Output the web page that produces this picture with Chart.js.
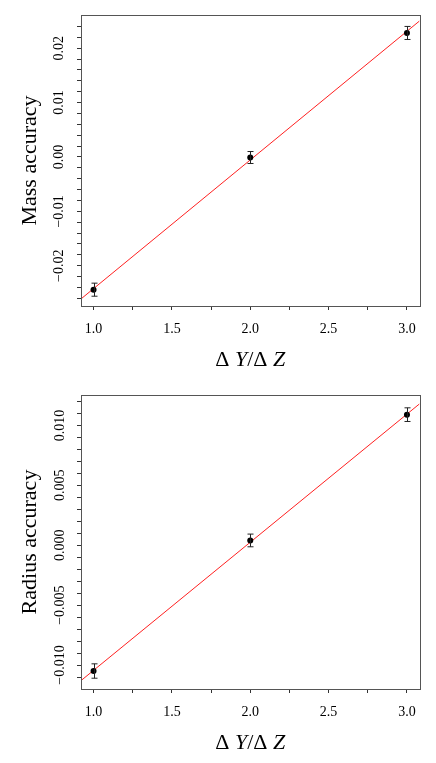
<!DOCTYPE html>
<html>
<head>
<meta charset="utf-8">
<script src="https://cdn.jsdelivr.net/npm/chart.js@4.4.1/dist/chart.umd.min.js"></script>
<style>
  html, body { margin: 0; padding: 0; background: #fff; }
  canvas { display: block; }
</style>
</head>
<body>
<canvas id="massChart" width="436" height="380"></canvas>
<canvas id="radiusChart" width="436" height="383"></canvas>
<script>
// helium-to-metal enrichment ratio used in the three runs
const deltaYZ = [1.0, 2.0, 3.0];

// mass accuracy per run, with 1-sigma errors
const massAcc = [-0.0244, -0.0001, 0.0228];
const massErr = [0.0012, 0.0011, 0.0012];
// linear fit, evaluated at the ends of the x range
const massFitX = [0.92, 3.08];
const massFitY = [-0.0261, 0.0250];

// radius accuracy per run, with 1-sigma errors
const radiusAcc = [-0.0105, 0.0004, 0.0109];
const radiusErr = [0.0006, 0.00053, 0.00057];
const radiusFitX = [0.92, 3.08];
const radiusFitY = [-0.0113, 0.0118];

const SERIF = '"Liberation Serif", "DejaVu Serif", serif';
const minus = s => s.replace('-', '\u2212');

// vertical error bars with small caps, drawn through the chart scales
const errorBars = {
  id: 'errorBars',
  afterDatasetsDraw(chart) {
    const { ctx, scales: { x, y } } = chart;
    const ds = chart.data.datasets[0];
    ctx.save();
    ctx.strokeStyle = '#222';
    ctx.lineWidth = 1;
    ds.data.forEach((p, i) => {
      const e = ds.errors[i];
      const px = Math.round(x.getPixelForValue(p.x)) + 0.5;
      const top = y.getPixelForValue(p.y + e);
      const bot = y.getPixelForValue(p.y - e);
      ctx.beginPath();
      ctx.moveTo(px, top); ctx.lineTo(px, bot);
      ctx.moveTo(px - 3, top); ctx.lineTo(px + 3, top);
      ctx.moveTo(px - 3, bot); ctx.lineTo(px + 3, bot);
      ctx.stroke();
    });
    ctx.restore();
  }
};

// frame around the plot region and the x label with italic Y and Z
const frameAndLabel = {
  id: 'frameAndLabel',
  afterDraw(chart) {
    const { ctx, chartArea: a } = chart;
    ctx.save();
    ctx.strokeStyle = '#555';
    ctx.lineWidth = 1;
    ctx.strokeRect(Math.round(a.left) + 0.5, Math.round(a.top) + 0.5,
      Math.round(a.right - a.left), Math.round(a.bottom - a.top));

    const parts = [['\u0394 ', false], ['Y', true], ['/', false], ['\u0394 ', false], ['Z', true]];
    const fontFor = it => (it ? 'italic ' : '') + '22px ' + SERIF;
    let total = 0;
    parts.forEach(([t, it]) => { ctx.font = fontFor(it); total += ctx.measureText(t).width; });
    let cx = (a.left + a.right) / 2 - total / 2;
    ctx.fillStyle = '#000';
    ctx.textBaseline = 'alphabetic';
    parts.forEach(([t, it]) => {
      ctx.font = fontFor(it);
      ctx.fillText(t, cx, a.bottom + 60);
      cx += ctx.measureText(t).width;
    });
    ctx.restore();
  }
};

function makeChart(id, acc, err, fitX, fitY, yMin, yMax, yStep, yMajor, yDigits, tickLo, tickHi, yTitle, labelPad) {
  const isMajor = (v, m) => Math.abs(v / m - Math.round(v / m)) < 1e-6;
  return new Chart(document.getElementById(id), {
    type: 'scatter',
    data: {
      datasets: [
        {
          data: deltaYZ.map((x, i) => ({ x, y: acc[i] })),
          errors: err,
          pointRadius: 3,
          pointBackgroundColor: '#000',
          pointBorderColor: '#000',
          pointBorderWidth: 0,
          showLine: false
        },
        {
          type: 'line',
          data: fitX.map((x, i) => ({ x, y: fitY[i] })),
          borderColor: '#ff2020',
          borderWidth: 1,
          pointRadius: 0,
          fill: false
        }
      ]
    },
    options: {
      responsive: false,
      animation: false,
      layout: { padding: { left: 0, top: 15, right: 16.5, bottom: 0 } },
      plugins: { legend: { display: false }, tooltip: { enabled: false } },
      scales: {
        x: {
          type: 'linear',
          min: 0.92,
          max: 3.08,
          afterFit: s => { s.height = 74; },
          border: { display: false },
          grid: { drawOnChartArea: false, drawTicks: true, tickLength: 4, tickColor: '#333' },
          ticks: {
            stepSize: 0.25,
            includeBounds: false,
            autoSkip: false,
            maxRotation: 0,
            padding: 11,
            color: '#000',
            font: { family: SERIF, size: 14 },
            callback: v => (isMajor(v, 0.5) ? v.toFixed(1) : '')
          }
        },
        y: {
          type: 'linear',
          min: yMin,
          max: yMax,
          afterFit: s => { s.width = 81; },
          afterBuildTicks: s => { s.ticks = s.ticks.filter(t => t.value >= tickLo - 1e-9 && t.value <= tickHi + 1e-9); },
          border: { display: false },
          grid: { drawOnChartArea: false, drawTicks: true, tickLength: 4, tickColor: '#333' },
          title: {
            display: true,
            text: yTitle,
            color: '#000',
            font: { family: SERIF, size: 22 },
            padding: { top: 17, bottom: 0 }
          },
          ticks: {
            stepSize: yStep,
            includeBounds: false,
            autoSkip: false,
            minRotation: 90,
            maxRotation: 90,
            crossAlign: 'center',
            padding: labelPad,
            color: '#000',
            font: { family: SERIF, size: 14 },
            callback: v => (isMajor(v, yMajor) ? minus(v.toFixed(yDigits)) : '')
          }
        }
      }
    },
    plugins: [errorBars, frameAndLabel]
  });
}

makeChart('massChart', massAcc, massErr, massFitX, massFitY,
  -0.0274, 0.0261, 0.002, 0.01, 2, -0.026, 0.024, 'Mass accuracy', 1);
makeChart('radiusChart', radiusAcc, radiusErr, radiusFitX, radiusFitY,
  -0.0120, 0.01254, 0.001, 0.005, 3, -0.011, 0.012, 'Radius accuracy', -2.7);
</script>
</body>
</html>
